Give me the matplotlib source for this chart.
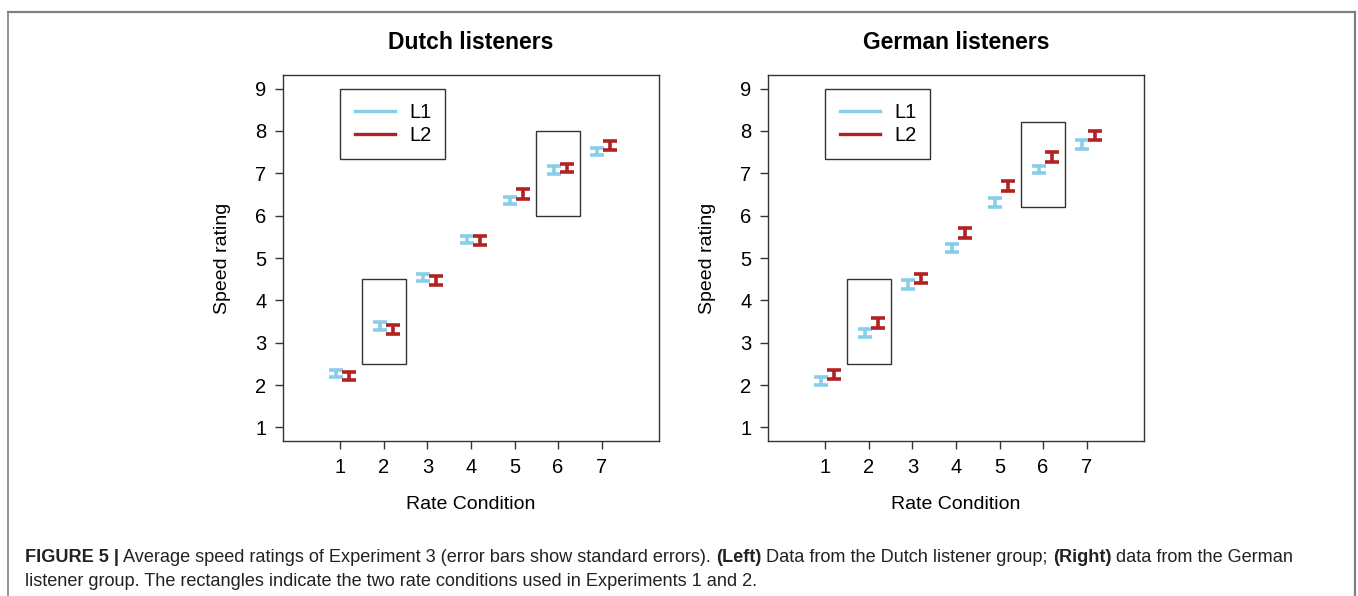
import matplotlib
matplotlib.use("Agg")
import matplotlib.pyplot as plt
from matplotlib.patches import Rectangle
from matplotlib.lines import Line2D
import numpy as np

plt.rcParams['font.family'] = ['Liberation Sans', 'DejaVu Sans']

# ---- data ----
conditions = [1, 2, 3, 4, 5, 6, 7]
panel_titles = ["Dutch listeners", "German listeners"]
series_labels = ["L1", "L2"]

dutch_L1 = [2.27, 3.40, 4.54, 5.44, 6.36, 7.08, 7.51]
dutch_L1_se = [0.09, 0.09, 0.09, 0.09, 0.09, 0.09, 0.09]
dutch_L2 = [2.22, 3.31, 4.47, 5.42, 6.51, 7.12, 7.66]
dutch_L2_se = [0.09, 0.10, 0.11, 0.11, 0.11, 0.10, 0.10]

german_L1 = [2.10, 3.23, 4.37, 5.23, 6.31, 7.09, 7.68]
german_L1_se = [0.09, 0.10, 0.10, 0.10, 0.10, 0.09, 0.10]
german_L2 = [2.25, 3.46, 4.52, 5.59, 6.69, 7.38, 7.89]
german_L2_se = [0.10, 0.12, 0.11, 0.11, 0.12, 0.12, 0.10]

# rectangles: (x range), (y range)
dutch_boxes = [((1.5, 2.5), (2.5, 4.5)), ((5.5, 6.5), (6.0, 8.0))]
german_boxes = [((1.5, 2.5), (2.5, 4.5)), ((5.5, 6.5), (6.2, 8.2))]

yticks = [1, 2, 3, 4, 5, 6, 7, 8, 9]

col_L1 = "#87CEEB"
col_L2 = "#B22222"
frame_col = "#333333"

W, H = 1358, 596
fig = plt.figure(figsize=(W / 100, H / 100), dpi=100)

panels = [
    (283, dutch_L1, dutch_L1_se, dutch_L2, dutch_L2_se, dutch_boxes, panel_titles[0]),
    (768, german_L1, german_L1_se, german_L2, german_L2_se, german_boxes, panel_titles[1]),
]

for left_px, l1, l1se, l2, l2se, boxes, title in panels:
    ax = fig.add_axes([left_px / W, 1 - 441 / H, 376 / W, 366 / H])
    x = np.array(conditions, dtype=float)
    ax.errorbar(x - 0.1, l1, yerr=l1se, fmt='none', ecolor=col_L1,
                elinewidth=2.6, capsize=5, capthick=2.6)
    ax.errorbar(x + 0.2, l2, yerr=l2se, fmt='none', ecolor=col_L2,
                elinewidth=2.6, capsize=5, capthick=2.6)
    for (bx, by) in boxes:
        ax.add_patch(Rectangle((bx[0], by[0]), bx[1] - bx[0], by[1] - by[0],
                               fill=False, edgecolor=frame_col, linewidth=1.0))
    ax.set_xlim(-0.32, 8.32)
    ax.set_ylim(0.68, 9.32)
    ax.set_xticks(conditions)
    ax.set_yticks(yticks)
    ax.tick_params(direction='out', length=6, width=1.0, color=frame_col,
                   labelsize=14.5, pad=6)
    for s in ax.spines.values():
        s.set_color(frame_col)
        s.set_linewidth(1.0)
    ax.set_xlabel("Rate Condition", fontsize=14, labelpad=14)
    ax.set_ylabel("Speed rating", fontsize=14, labelpad=17)
    ax.set_title(title, fontsize=16.5, fontweight='bold', pad=19)
    handles = [Line2D([], [], color=col_L1, lw=2.4), Line2D([], [], color=col_L2, lw=2.4)]
    leg = ax.legend(handles, series_labels, loc='upper left', bbox_to_anchor=(1, 9),
                    bbox_transform=ax.transData, borderaxespad=0, fancybox=False,
                    edgecolor=frame_col, framealpha=1, fontsize=14.5,
                    handlelength=2.0, handletextpad=0.7, labelspacing=0.2,
                    borderpad=0.7)
    leg.get_frame().set_linewidth(1.0)

# figure border (grey, open at bottom)
bc = "#808080"
fig.add_artist(Line2D([8 / W, 1355 / W], [1 - 12 / H, 1 - 12 / H], color=bc, lw=1.6,
                      transform=fig.transFigure))
fig.add_artist(Line2D([8 / W, 8 / W], [0, 1 - 12 / H], color=bc, lw=1.2,
                      transform=fig.transFigure))
fig.add_artist(Line2D([1355 / W, 1355 / W], [0, 1 - 12 / H], color=bc, lw=1.6,
                      transform=fig.transFigure))

# caption with mixed weights
cap_lines = [
    [("FIGURE 5 |", 'bold'), (" Average speed ratings of Experiment 3 (error bars show standard errors). ", 'normal'),
     ("(Left)", 'bold'), (" Data from the Dutch listener group; ", 'normal'),
     ("(Right)", 'bold'), (" data from the German", 'normal')],
    [("listener group. The rectangles indicate the two rate conditions used in Experiments 1 and 2.", 'normal')],
]
cap_fs = 13.05
renderer = fig.canvas.get_renderer()
ys = [557, 581]
for line, ypx in zip(cap_lines, ys):
    xpx = 25
    for txt, wt in line:
        t = fig.text(xpx / W, 1 - ypx / H, txt, fontsize=cap_fs, fontweight=wt,
                     va='center', ha='left', color="#222222")
        bb = t.get_window_extent(renderer)
        xpx += bb.width

fig.savefig("out.png", dpi=100)
